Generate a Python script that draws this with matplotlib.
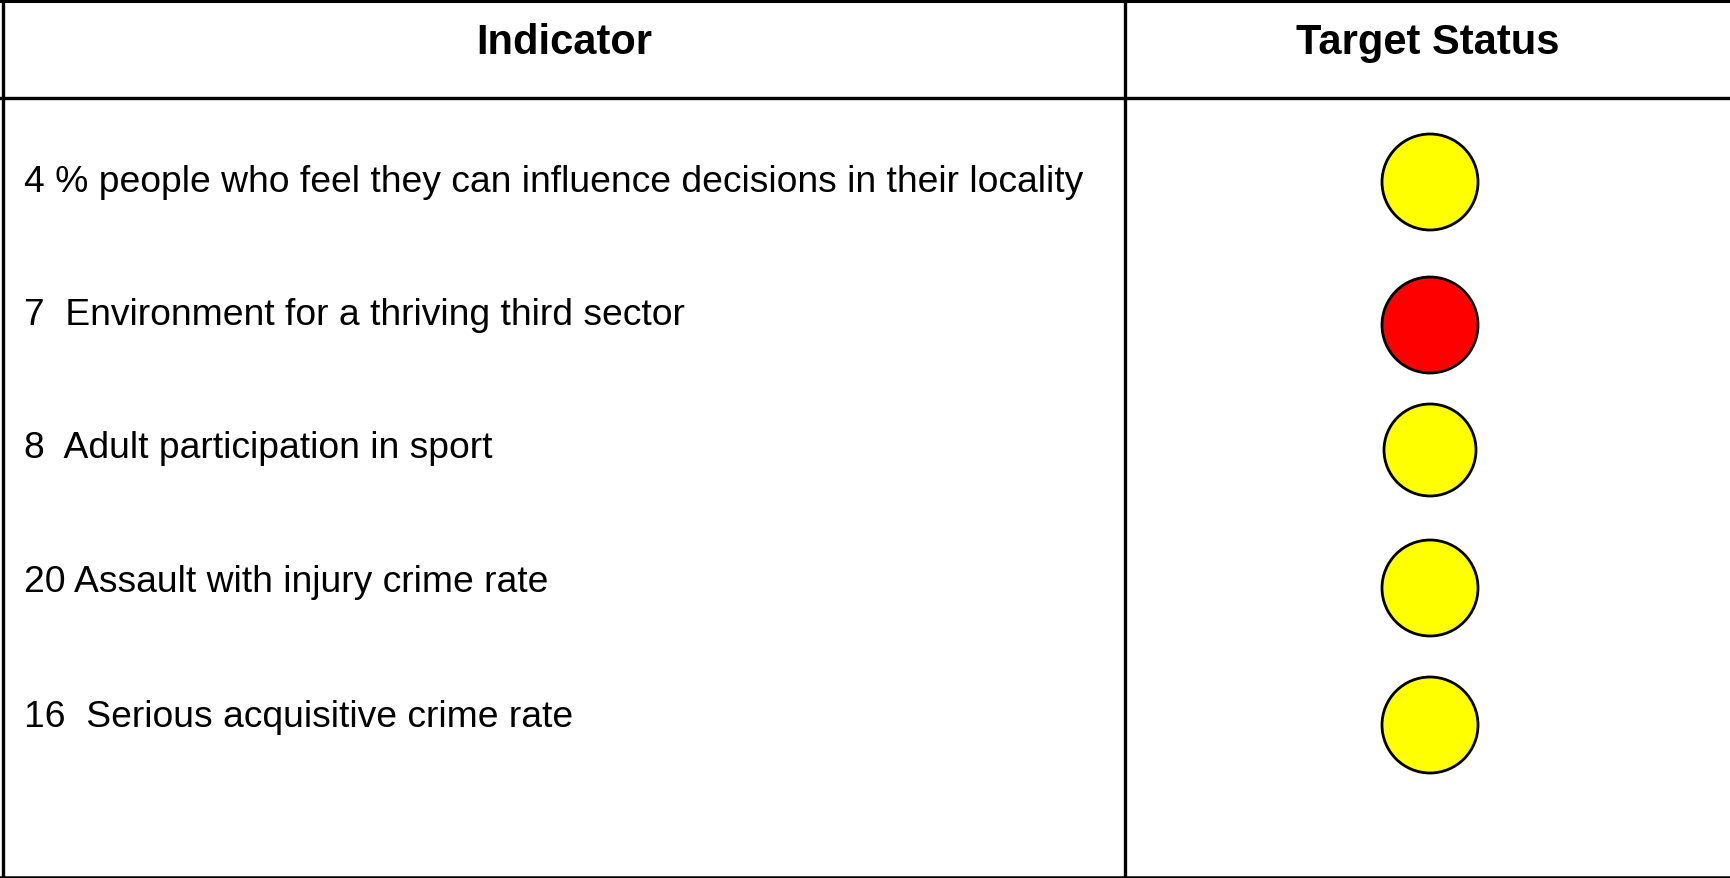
import matplotlib.pyplot as plt
from matplotlib.patches import Circle

# table content
headers = ['Indicator', 'Target Status']
indicators = [
    '4 % people who feel they can influence decisions in their locality',
    '7  Environment for a thriving third sector',
    '8  Adult participation in sport',
    '20 Assault with injury crime rate',
    '16  Serious acquisitive crime rate',
]
status = ['amber', 'red', 'amber', 'amber', 'amber']
status_colors = {'amber': '#ffff00', 'red': '#ff0000'}

# layout (pixel units, origin top-left)
W, H = 1731, 879
col_split = 1125
header_bottom = 99
text_base = [192, 325, 458, 592, 727]
circle_y = [183, 326, 451, 589, 726]
circle_r = [48, 48, 46, 48, 48]

fig = plt.figure(figsize=(W / 100, H / 100), dpi=100)
ax = fig.add_axes([0, 0, 1, 1])
ax.set_xlim(0, W)
ax.set_ylim(H, 0)
ax.axis('off')

# grid lines
ax.plot([0, W], [2, 2], color='black', lw=2.2)
ax.plot([0, W], [header_bottom, header_bottom], color='black', lw=2.4)
ax.plot([3, 3], [0, H], color='black', lw=2.4)
ax.plot([col_split, col_split], [0, H], color='black', lw=2.4)
ax.plot([0, W], [878, 878], color='black', lw=1.8)

font = ['Liberation Sans', 'DejaVu Sans']
ax.text((4 + col_split) / 2, 54, headers[0], ha='center', va='baseline',
        fontsize=30, fontweight='bold', family=font)
ax.text((col_split + W) / 2, 54, headers[1], ha='center', va='baseline',
        fontsize=30, fontweight='bold', family=font)

cx = 1430
for i, name in enumerate(indicators):
    ax.text(24, text_base[i], name, ha='left', va='baseline', fontsize=26.8, family=font)
    ax.add_patch(Circle((cx, circle_y[i]), circle_r[i], facecolor=status_colors[status[i]],
                        edgecolor='black', lw=2.0))

fig.savefig('out.png', dpi=100)
